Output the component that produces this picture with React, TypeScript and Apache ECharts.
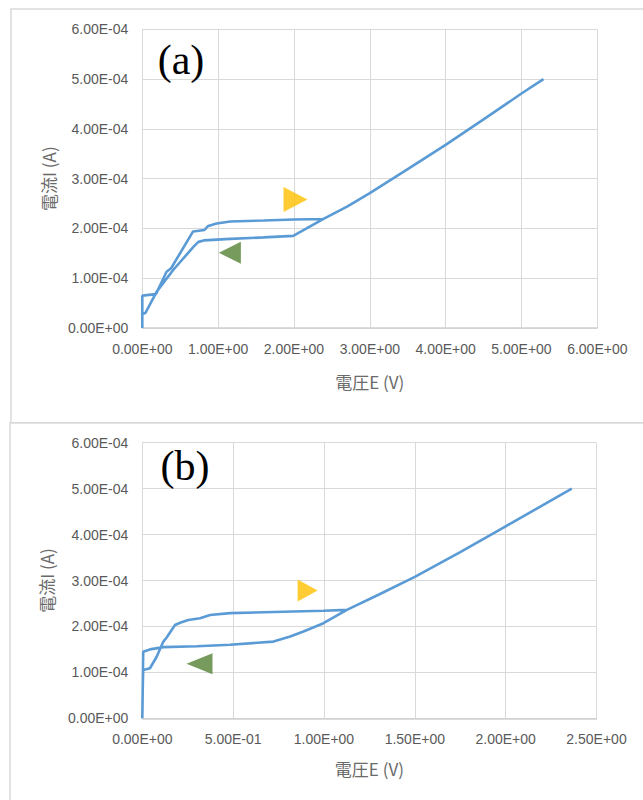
import React, { useEffect, useRef } from "react";
import * as echarts from "echarts";

// Panel (a)
const aVoltage = [0, 0, 0.18, 0.32, 0.38, 0.67, 0.82, 0.87, 0.98, 1.16, 1.6, 2.0, 2.39, 2.7, 3.0, 3.5, 4.0, 4.5, 5.0, 5.29,
  5.0, 4.5, 4.0, 3.5, 3.0, 2.7, 2.39, 1.99, 1.6, 1.16, 0.81, 0.74, 0.68, 0.41, 0.19, 0.04, 0, 0];
const aCurrent = [0, 0.65e-4, 0.68e-4, 1.13e-4, 1.2e-4, 1.94e-4, 1.97e-4, 2.05e-4, 2.1e-4, 2.14e-4, 2.16e-4, 2.18e-4, 2.19e-4, 2.44e-4, 2.71e-4, 3.19e-4, 3.68e-4, 4.19e-4, 4.71e-4, 5.0e-4,
  4.71e-4, 4.19e-4, 3.68e-4, 3.19e-4, 2.71e-4, 2.44e-4, 2.19e-4, 1.85e-4, 1.82e-4, 1.79e-4, 1.76e-4, 1.73e-4, 1.64e-4, 1.17e-4, 0.73e-4, 0.3e-4, 0.28e-4, 0];

// Panel (b)
const bVoltage = [0, 0.003, 0.005, 0.042, 0.079, 0.116, 0.134, 0.18, 0.208, 0.253, 0.318, 0.373, 0.483, 0.997, 1.126, 1.3, 1.5, 1.75, 2.0, 2.2, 2.364,
  2.2, 2.0, 1.75, 1.5, 1.3, 1.126, 0.997, 0.887, 0.814, 0.722, 0.483, 0.3, 0.116, 0.042, 0.005, 0];
const bCurrent = [0, 0.76e-4, 1.05e-4, 1.09e-4, 1.34e-4, 1.67e-4, 1.76e-4, 2.03e-4, 2.08e-4, 2.14e-4, 2.18e-4, 2.25e-4, 2.29e-4, 2.34e-4, 2.36e-4, 2.69e-4, 3.08e-4, 3.62e-4, 4.18e-4, 4.63e-4, 5.0e-4,
  4.63e-4, 4.18e-4, 3.62e-4, 3.08e-4, 2.69e-4, 2.36e-4, 2.07e-4, 1.89e-4, 1.78e-4, 1.67e-4, 1.6e-4, 1.57e-4, 1.55e-4, 1.5e-4, 1.45e-4, 0];

// Direction arrows [voltage, current]
const aForwardArrow = [2.02, 2.58e-4];
const aReturnArrow = [1.155, 1.51e-4];
const bForwardArrow = [0.91, 2.78e-4];
const bReturnArrow = [0.315, 1.19e-4];

const panelLabels = ["(a)", "(b)"];
const xAxisName = "電圧E (V)";
const yAxisName = "電流I (A)";

function sci(v: number): string {
  const s = Number(v).toExponential(2);
  const [m, e] = s.split("e");
  const sign = e[0] === "-" ? "-" : "+";
  const digits = e.replace(/[+-]/, "").padStart(2, "0");
  return m + "E" + sign + digits;
}

const GRID_COLOR = "#d9d9d9";
const LABEL_COLOR = "#595959";
const NAME_COLOR = "#6a6a6a";
const LINE_COLOR = "#5B9BD5";
const LABEL_FONT = "Liberation Sans Narrow, Liberation Sans, sans-serif";

function xAxis(gridIndex: number, max: number, interval: number, nameGap: number) {
  return {
    type: "value",
    gridIndex,
    min: 0,
    max,
    interval,
    name: xAxisName,
    nameLocation: "middle",
    nameGap,
    nameTextStyle: { color: NAME_COLOR, fontSize: 17, fontFamily: "Noto Sans CJK JP" },
    axisLine: { show: true, lineStyle: { color: "#d0d0d0", width: 1.5 } },
    axisTick: { show: false },
    axisLabel: { color: LABEL_COLOR, fontSize: 14, margin: 14, fontFamily: LABEL_FONT, formatter: (v: number) => sci(v) },
    splitLine: { show: true, lineStyle: { color: GRID_COLOR, width: 1 } },
  };
}

function yAxis(gridIndex: number, nameGap: number) {
  return {
    type: "value",
    gridIndex,
    min: 0,
    max: 6e-4,
    interval: 1e-4,
    name: yAxisName,
    nameLocation: "middle",
    nameGap,
    nameTextStyle: { color: NAME_COLOR, fontSize: 17, fontFamily: "Noto Sans CJK JP" },
    axisLine: { show: true, lineStyle: { color: GRID_COLOR, width: 1 } },
    axisTick: { show: false },
    axisLabel: { color: LABEL_COLOR, fontSize: 14, margin: 14, fontFamily: LABEL_FONT, formatter: (v: number) => sci(v) },
    splitLine: { show: true, lineStyle: { color: GRID_COLOR, width: 1 } },
  };
}

function pairs(xs: number[], ys: number[]) {
  return xs.map((x, i) => [x, ys[i]]);
}

export default function App() {
  const ref = useRef<HTMLDivElement>(null);
  useEffect(() => {
    if (!ref.current) return;
    const chart = echarts.init(ref.current, null, { renderer: "svg" });
    chart.setOption({
      animation: false,
      backgroundColor: "#ffffff",
      grid: [
        { left: 142.3, top: 29.3, width: 455, height: 298.7 },
        { left: 142.3, top: 442.7, width: 454.2, height: 275.6 },
      ],
      xAxis: [xAxis(0, 6, 1, 45), xAxis(1, 2.5, 0.5, 42)],
      yAxis: [yAxis(0, 85), yAxis(1, 87)],
      series: [
        {
          type: "line", xAxisIndex: 0, yAxisIndex: 0, data: pairs(aVoltage, aCurrent),
          showSymbol: false, lineStyle: { color: LINE_COLOR, width: 2.6 }, z: 3,
        },
        {
          type: "line", xAxisIndex: 1, yAxisIndex: 1, data: pairs(bVoltage, bCurrent),
          showSymbol: false, lineStyle: { color: LINE_COLOR, width: 2.6 }, z: 3,
        },
        { type: "scatter", xAxisIndex: 0, yAxisIndex: 0, data: [aForwardArrow], symbol: "triangle", symbolSize: [25, 24], symbolRotate: -90, itemStyle: { color: "#FFC000" } },
        { type: "scatter", xAxisIndex: 0, yAxisIndex: 0, data: [aReturnArrow], symbol: "triangle", symbolSize: [22, 22], symbolRotate: 90, itemStyle: { color: "#548235" } },
        { type: "scatter", xAxisIndex: 1, yAxisIndex: 1, data: [bForwardArrow], symbol: "triangle", symbolSize: [22, 20], symbolRotate: -90, itemStyle: { color: "#FFC000" } },
        { type: "scatter", xAxisIndex: 1, yAxisIndex: 1, data: [bReturnArrow], symbol: "triangle", symbolSize: [21, 26], symbolRotate: 90, itemStyle: { color: "#548235" } },
      ],
      graphic: [
        { type: "rect", shape: { x: 11, y: 9, width: 700, height: 413.7 }, style: { fill: "none", stroke: GRID_COLOR, lineWidth: 1.5 }, z: -1 },
        { type: "rect", shape: { x: 10, y: 422.7, width: 700, height: 400 }, style: { fill: "none", stroke: GRID_COLOR, lineWidth: 1.5 }, z: -1 },
        { type: "text", x: 181, y: 60, style: { text: panelLabels[0], fill: "#000", fontSize: 42, fontFamily: "Liberation Serif", textAlign: "center", textVerticalAlign: "middle" }, z: 10 },
        { type: "text", x: 185, y: 466, style: { text: panelLabels[1], fill: "#000", fontSize: 42, fontFamily: "Liberation Serif", textAlign: "center", textVerticalAlign: "middle" }, z: 10 },
      ],
    });
    return () => chart.dispose();
  }, []);
  return <div ref={ref} style={{ position: "absolute", left: 0, top: 0, width: 643, height: 800 }} />;
}
